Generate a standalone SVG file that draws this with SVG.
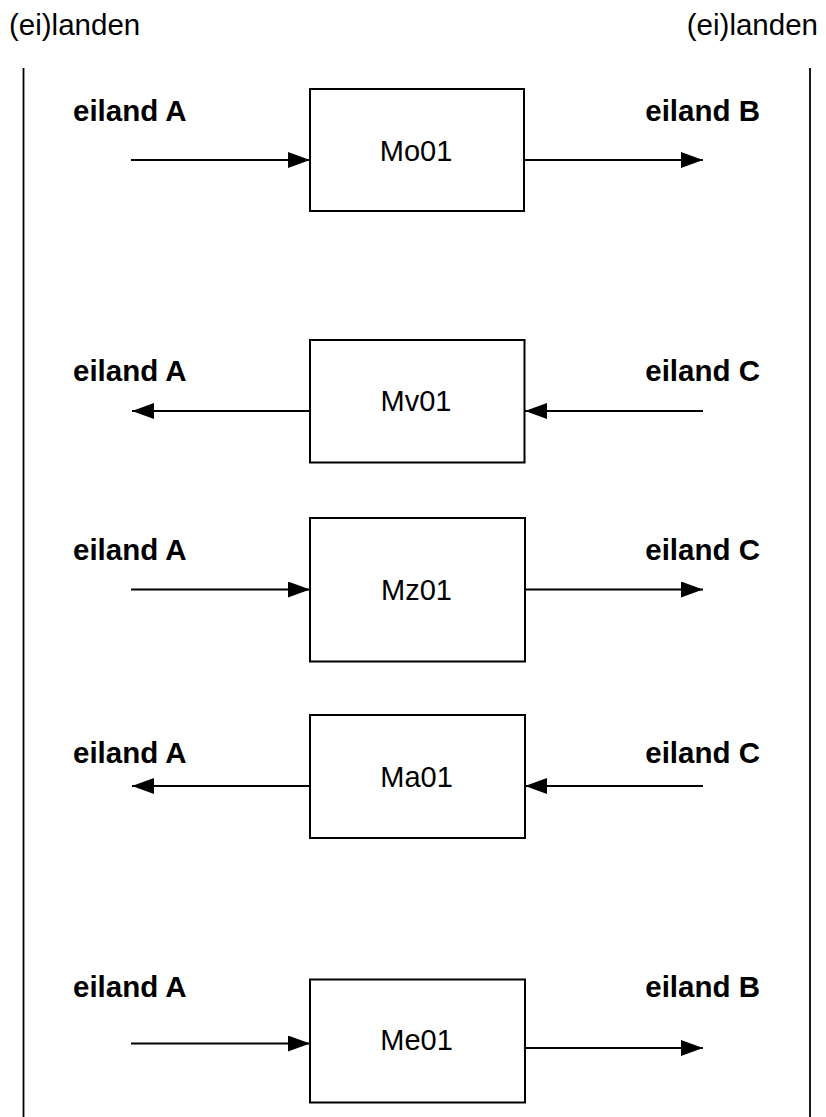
<svg xmlns="http://www.w3.org/2000/svg" width="826" height="1117" viewBox="0 0 826 1117">
<style>
text{font-family:"Liberation Sans",Arial,sans-serif;fill:#000}
.hdr{font-size:29.5px}
.lbl{font-size:29.5px;font-weight:bold}
.box{fill:#fff;stroke:#000;stroke-width:2}
.bt{font-size:29px;text-anchor:middle}
.ln{stroke:#000;stroke-width:1.8;fill:none}
.con{stroke:#000;stroke-width:1.8;fill:none;marker-end:url(#ah)}
</style>
<defs>
<marker id="ah" markerUnits="userSpaceOnUse" markerWidth="24" markerHeight="18" refX="22" refY="8" orient="auto">
<path d="M0,0 L22,8 L0,16 Z" fill="#000"/>
</marker>
</defs>
<rect width="826" height="1117" fill="#fff"/>
<g id="header">
<text class="hdr" x="9" y="35">(ei)landen</text>
<text class="hdr" x="818" y="35" text-anchor="end">(ei)landen</text>
<line class="ln" x1="23.5" y1="68" x2="23.5" y2="1117"/>
<line class="ln" x1="810" y1="68" x2="810" y2="1117"/>
</g>
<g id="connectors">
<line class="con" x1="131" y1="160" x2="310" y2="160"/>
<line class="con" x1="524" y1="160" x2="703" y2="160"/>
<line class="con" x1="310" y1="411" x2="132" y2="411"/>
<line class="con" x1="703" y1="411" x2="525" y2="411"/>
<line class="con" x1="131" y1="589.5" x2="310" y2="589.5"/>
<line class="con" x1="525" y1="589.5" x2="703" y2="589.5"/>
<line class="con" x1="310" y1="786" x2="132" y2="786"/>
<line class="con" x1="703" y1="786" x2="525" y2="786"/>
<line class="con" x1="131" y1="1043.5" x2="310" y2="1043.5"/>
<line class="con" x1="525" y1="1048" x2="703" y2="1048"/>
</g>
<g id="labels">
<text class="lbl" x="73" y="121">eiland A</text>
<text class="lbl" x="760" y="121" text-anchor="end">eiland B</text>
<text class="lbl" x="73" y="381">eiland A</text>
<text class="lbl" x="760" y="381" text-anchor="end">eiland C</text>
<text class="lbl" x="73" y="560">eiland A</text>
<text class="lbl" x="760" y="560" text-anchor="end">eiland C</text>
<text class="lbl" x="73" y="763">eiland A</text>
<text class="lbl" x="760" y="763" text-anchor="end">eiland C</text>
<text class="lbl" x="73" y="997">eiland A</text>
<text class="lbl" x="760" y="997" text-anchor="end">eiland B</text>
</g>
<g id="Mo01">
<rect class="box" x="310" y="89" width="214" height="122"/>
<text class="bt" x="416" y="160.5">Mo01</text>
</g>
<g id="Mv01">
<rect class="box" x="310" y="340" width="214.5" height="122.5"/>
<text class="bt" x="416" y="411">Mv01</text>
</g>
<g id="Mz01">
<rect class="box" x="310" y="518" width="215" height="143.5"/>
<text class="bt" x="416.5" y="599.5">Mz01</text>
</g>
<g id="Ma01">
<rect class="box" x="310" y="715" width="215" height="123"/>
<text class="bt" x="416.5" y="787">Ma01</text>
</g>
<g id="Me01">
<rect class="box" x="310" y="979.5" width="215" height="123"/>
<text class="bt" x="416.5" y="1050">Me01</text>
</g>
</svg>
